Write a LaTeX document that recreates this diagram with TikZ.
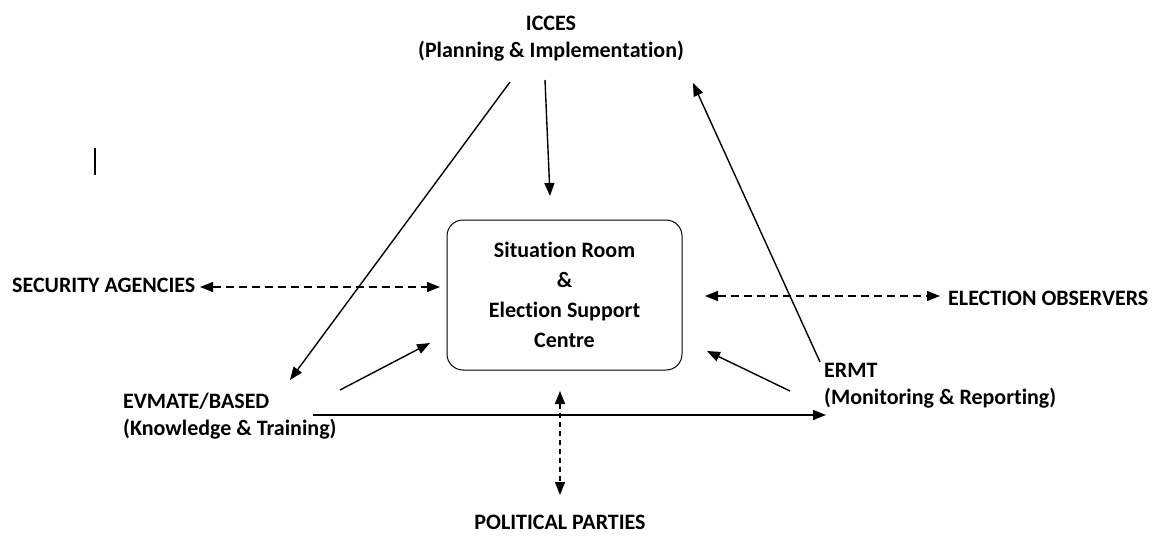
\documentclass[tikz,border=0pt]{standalone}
\usepackage{fontspec}
\setmainfont{Carlito}[RawFeature=-liga]
\usetikzlibrary{arrows.meta}
\begin{document}
\begin{tikzpicture}[x=1pt,y=-1pt,
  lbl/.style={font=\fontsize{22}{27}\selectfont\bfseries, inner sep=0pt},
  tip/.style={},
  arr/.style={line width=1.4pt, -{Triangle[length=13pt,width=10pt]}},
  darr/.style={line width=1.4pt, dash pattern=on 8pt off 5pt, {Triangle[length=13pt,width=10pt]}-{Triangle[length=13pt,width=10pt]}},
  dotarr/.style={line width=1.4pt, dash pattern=on 5pt off 4pt, {Triangle[length=13pt,width=10pt]}-{Triangle[length=13pt,width=10pt]}},
  roombox/.style={draw, line width=1pt, rounded corners=16pt, minimum width=235pt, minimum height=150pt, align=center, font=\fontsize{22}{30}\selectfont\bfseries}
]
\useasboundingbox (0,0) rectangle (1153,540);
% texts
\node[lbl, align=center] (icces) at (551,39) {ICCES\\(Planning \& Implementation)};
\node[roombox] (room) at (564.5,295) {Situation Room\\\&\\Election Support\\Centre};
\node[lbl, anchor=west] (sec) at (12,285) {SECURITY AGENCIES};
\node[lbl, anchor=west] (obs) at (948,298) {ELECTION OBSERVERS};
\node[lbl, anchor=west, align=left] (evm) at (123,416) {EVMATE/BASED\\(Knowledge \& Training)};
\node[lbl, anchor=west, align=left] (ermt) at (824,386) {ERMT\\(Monitoring \& Reporting)};
\node[lbl] (pol) at (560,522) {POLITICAL PARTIES};
% connector end points
\coordinate (iA) at (510,82);
\coordinate (eA) at (290,380);
\coordinate (iB) at (545,80);
\coordinate (rT) at (550,196);
\coordinate (rA) at (820,362);
\coordinate (iC) at (693,83);
\coordinate (eB) at (340,390);
\coordinate (rL) at (430,343);
\coordinate (rB) at (790,391);
\coordinate (rR) at (707,351);
\coordinate (eC) at (313,415);
\coordinate (rC) at (826,415);
\coordinate (sL) at (200,287);
\coordinate (sR) at (440,287);
\coordinate (oL) at (705,296);
\coordinate (oR) at (940,296);
\coordinate (pT) at (560,391);
\coordinate (pB) at (560,495);
% connectors
\draw[arr] (iA) -- (eA);
\draw[arr] (iB) -- (rT);
\draw[arr] (rA) -- (iC);
\draw[arr] (eB) -- (rL);
\draw[arr] (rB) -- (rR);
\draw[arr] (eC) -- (rC);
\draw[darr] (sL) -- (sR);
\draw[darr] (oL) -- (oR);
\draw[dotarr] (pT) -- (pB);
% stray cursor mark
\coordinate (cT) at (95,148);
\coordinate (cB) at (95,175);
\draw[line width=2pt] (cT) -- (cB);
\end{tikzpicture}
\end{document}
